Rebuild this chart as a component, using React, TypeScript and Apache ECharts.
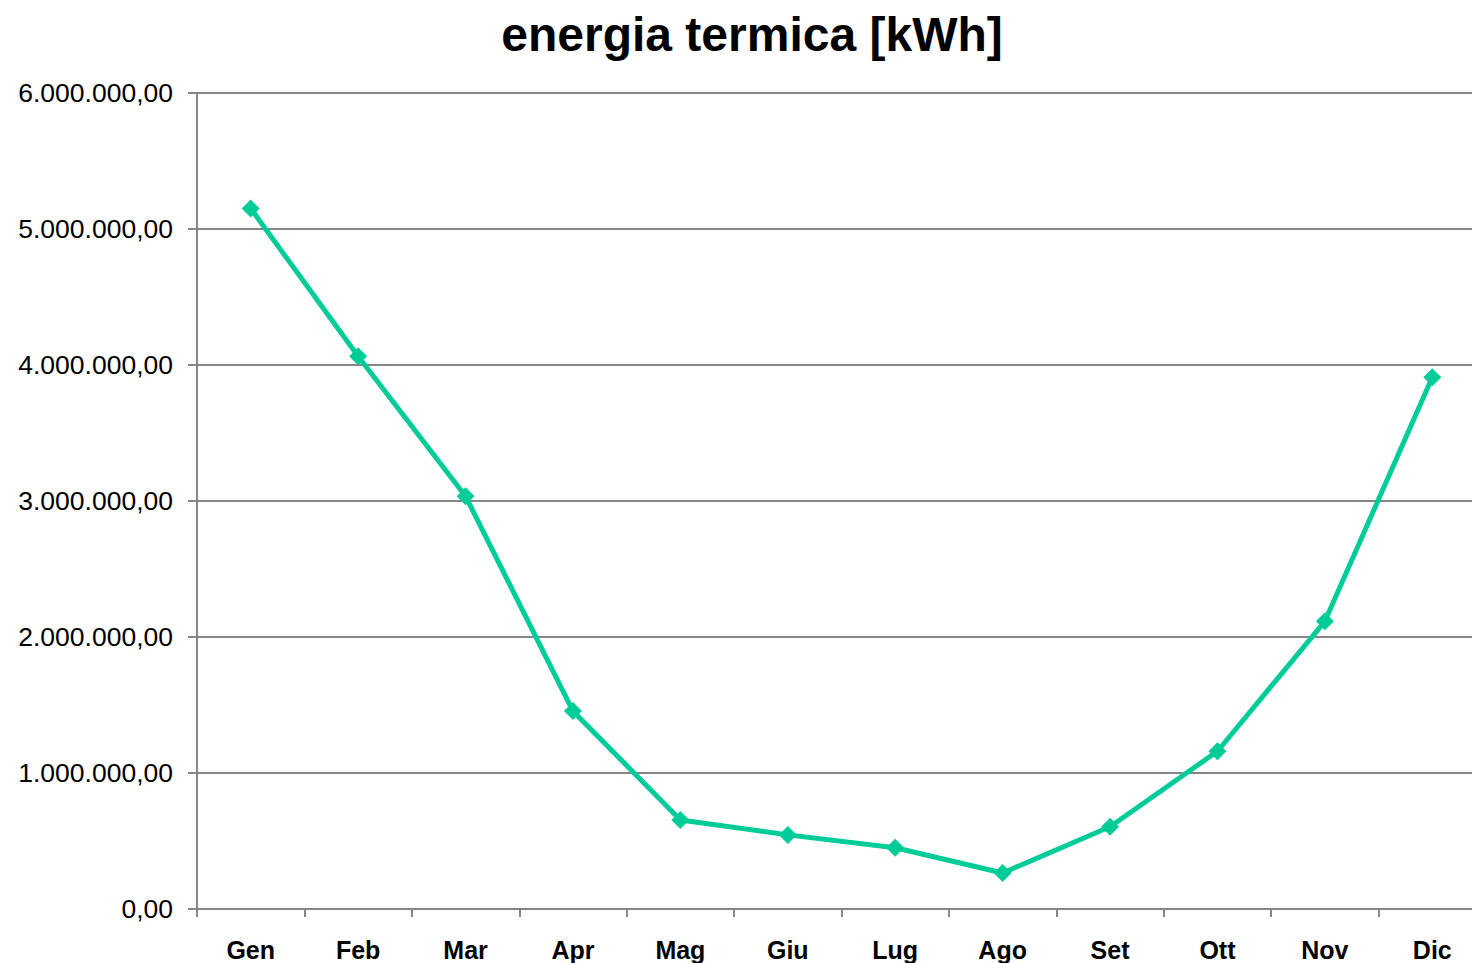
import React, { useEffect, useRef } from "react";
import * as echarts from "echarts";

const months = ["Gen", "Feb", "Mar", "Apr", "Mag", "Giu", "Lug", "Ago", "Set", "Ott", "Nov", "Dic"];
const energia = [5150000, 4065000, 3035000, 1455000, 655000, 545000, 450000, 265000, 605000, 1160000, 2115000, 3910000];
const chartTitle = "energia termica [kWh]";

function fmt(v: number): string {
  const s = Math.round(v).toString().replace(/\B(?=(\d{3})+(?!\d))/g, ".");
  return s + ",00";
}

export default function App() {
  const ref = useRef<HTMLDivElement>(null);
  useEffect(() => {
    if (!ref.current) return;
    const chart = echarts.init(ref.current, null, { renderer: "svg" });
    const gray = "#868686";
    chart.setOption({
      animation: false,
      backgroundColor: "#ffffff",
      title: {
        text: chartTitle,
        left: 747,
        textAlign: "center",
        top: 5,
        textStyle: { fontFamily: "Liberation Sans", fontWeight: "bold", fontSize: 48, color: "#000" },
      },
      grid: { left: 197, top: 93, right: 0, bottom: 54, containLabel: false },
      xAxis: {
        type: "category",
        data: months,
        boundaryGap: true,
        axisLine: { lineStyle: { color: gray, width: 2 } },
        axisTick: { show: true, length: 8, lineStyle: { color: gray, width: 2 } },
        axisLabel: { margin: 28, fontFamily: "Liberation Sans", fontWeight: "bold", fontSize: 25, color: "#000" },
        splitLine: { show: false },
      },
      yAxis: {
        type: "value",
        min: 0,
        max: 6000000,
        interval: 1000000,
        axisLine: { show: true, lineStyle: { color: gray, width: 2 } },
        axisTick: { show: true, length: 9, lineStyle: { color: gray, width: 2 } },
        axisLabel: { margin: 24, fontFamily: "Liberation Sans", fontSize: 26.5, color: "#000", formatter: (v: number) => fmt(v) },
        splitLine: { show: true, lineStyle: { color: gray, width: 2 } },
      },
      series: [
        {
          type: "line",
          data: energia,
          symbol: "diamond",
          symbolSize: 18,
          itemStyle: { color: "#00CC99" },
          lineStyle: { color: "#00CC99", width: 5 },
        },
      ],
    });
    return () => chart.dispose();
  }, []);
  return (
    <div style={{ position: "fixed", left: 0, top: 0, width: 1472, height: 963, overflow: "hidden", background: "#fff" }}>
      <div ref={ref} style={{ position: "absolute", left: 0, top: 0, width: 1486, height: 963 }} />
    </div>
  );
}
